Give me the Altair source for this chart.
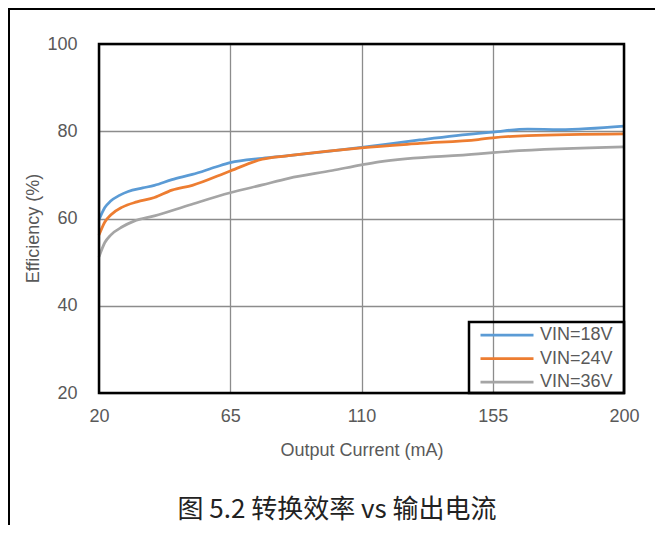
import altair as alt
import pandas as pd

series_names = ["VIN=18V", "VIN=24V", "VIN=36V"]
series_colors = ["#5B9BD5", "#ED7D31", "#A5A5A5"]

x18 = [20, 22, 24, 27, 30, 35, 39, 45, 52, 60, 65, 76, 85, 110, 130, 150, 155, 167, 178, 200]
y18 = [59.7, 62.5, 64.0, 65.3, 66.2, 67.0, 67.6, 68.9, 70.1, 71.8, 72.8, 73.8, 74.4, 76.3, 78.0, 79.5, 79.8, 80.5, 80.4, 81.2]

x24 = [20, 22, 24, 28, 33, 39, 45, 52, 65, 76, 85, 110, 130, 150, 155, 167, 200]
y24 = [56.2, 59.2, 60.8, 62.6, 63.8, 64.8, 66.5, 67.6, 70.9, 73.6, 74.4, 76.2, 77.2, 78.1, 78.5, 79.0, 79.4]

x36 = [20, 22, 24, 28, 32, 39, 51, 65, 76, 85, 100, 110, 116, 150, 155, 200]
y36 = [51.2, 54.5, 56.2, 58.1, 59.4, 60.6, 63.1, 65.9, 67.7, 69.2, 71.0, 72.3, 73.0, 74.8, 75.1, 76.4]

x_ticks = [20, 65, 110, 155, 200]
y_ticks = [20, 40, 60, 80, 100]
caption = "图 5.2 转换效率 vs 输出电流"

rows = []
for name, xs, ys in zip(series_names, [x18, x24, x36], [y18, y24, y36]):
    for xv, yv in zip(xs, ys):
        rows.append({"current": xv, "eff": yv, "series": name})
df = pd.DataFrame(rows)
one = pd.DataFrame({"k": [0]})

W, H = 525, 349
label_color = "#595959"
font = "Liberation Sans"

lines = alt.Chart(df).mark_line(strokeWidth=2.75, interpolate="monotone").encode(
    x=alt.X("current:Q",
            scale=alt.Scale(domain=[20, 200], nice=False, zero=False),
            axis=alt.Axis(values=x_ticks, title="Output Current (mA)", labelFlush=False,
                          labelPadding=14, titleY=57, titleBaseline="middle")),
    y=alt.Y("eff:Q",
            scale=alt.Scale(domain=[20, 100], nice=False, zero=False),
            axis=alt.Axis(values=y_ticks, title="Efficiency (%)", labelFlush=False,
                          labelPadding=22, titleX=-66, titleY=184,
                          titleBaseline="middle", titleAngle=-90)),
    color=alt.Color("series:N",
                    scale=alt.Scale(domain=series_names, range=series_colors),
                    legend=alt.Legend(title=None, orient="none", legendX=380, legendY=282,
                                      symbolType="stroke", symbolSize=2809,
                                      symbolStrokeWidth=2.75, clipHeight=18,
                                      rowPadding=5.5, labelFontSize=18, labelFont=font,
                                      labelColor=label_color, padding=0,
                                      labelOffset=5, symbolOffset=0)),
    order=alt.Order("current:Q"),
)

frame = alt.Chart(one).mark_rect(filled=False, stroke="black", strokeWidth=2.5).encode(
    x=alt.value(0), x2=alt.value(W), y=alt.value(0), y2=alt.value(H)
)

legend_box = alt.Chart(one).mark_rect(filled=False, stroke="black", strokeWidth=2.5).encode(
    x=alt.value(370), x2=alt.value(W), y=alt.value(278), y2=alt.value(H)
)

top_line = alt.Chart(one).mark_rule(stroke="black", strokeWidth=2).encode(
    x=alt.value(-91), x2=alt.value(W + 31), y=alt.value(-35)
)
left_line = alt.Chart(one).mark_rule(stroke="black", strokeWidth=2).encode(
    x=alt.value(-90), y=alt.value(-36), y2=alt.value(H + 132)
)

cap = alt.Chart(one).mark_text(text=caption, fontSize=26, font="Noto Sans CJK SC",
                               color="#222222", align="center", baseline="middle").encode(
    x=alt.value(238), y=alt.value(466)
)

chart = alt.layer(lines, frame, legend_box, top_line, left_line, cap).properties(
    width=W, height=H,
    autosize=alt.AutoSizeParams(type="none"),
    padding={"left": 91, "top": 36, "right": 31, "bottom": 132},
).configure_view(stroke=None).configure_axis(
    domain=False, ticks=False, grid=True, gridColor="#8c8c8c", gridWidth=1.3,
    labelFont=font, labelFontSize=18, labelColor=label_color,
    titleFont=font, titleFontSize=18, titleColor=label_color, titleFontWeight="normal",
)

chart.save("out.html", embed_options={"renderer": "svg", "actions": False})
